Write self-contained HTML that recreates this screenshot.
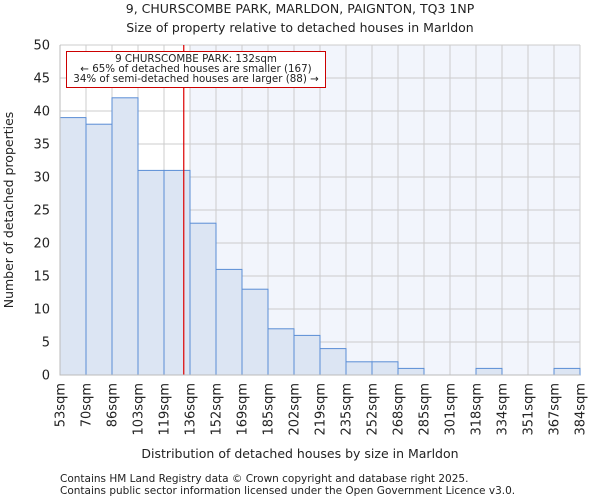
<!DOCTYPE html>
<html><head><meta charset="utf-8"><style>
body{margin:0;background:#fff;font-family:"DejaVu Sans","Liberation Sans",sans-serif;}
svg text{font-family:"DejaVu Sans","Liberation Sans",sans-serif;fill:#222;}
</style></head><body>
<svg id="chart" width="600" height="500" xmlns="http://www.w3.org/2000/svg">
<text x="300" y="13" font-size="12.5" text-anchor="middle">9, CHURSCOMBE PARK, MARLDON, PAIGNTON, TQ3 1NP</text>
<text x="300" y="32" font-size="12.5" text-anchor="middle">Size of property relative to detached houses in Marldon</text>
<g id="grid"></g><g id="bars"></g><g id="axes"></g>
<text x="300" y="458" font-size="12.5" text-anchor="middle">Distribution of detached houses by size in Marldon</text>
<text transform="translate(13,210) rotate(-90)" font-size="12.5" text-anchor="middle">Number of detached properties</text>
<text x="60" y="482" font-size="10.5" fill="#444">Contains HM Land Registry data © Crown copyright and database right 2025.</text>
<text x="60" y="494" font-size="10.5" fill="#444">Contains public sector information licensed under the Open Government Licence v3.0.</text>
</svg>
<script>
const binEdges=["53sqm","70sqm","86sqm","103sqm","119sqm","136sqm","152sqm","169sqm","185sqm","202sqm","219sqm","235sqm","252sqm","268sqm","285sqm","301sqm","318sqm","334sqm","351sqm","367sqm","384sqm"];
const counts=[39,38,42,31,31,23,16,13,7,6,4,2,2,1,0,0,1,0,0,1];
const yTicks=[0,5,10,15,20,25,30,35,40,45,50];
const propertyBinPos=4.76; // 132sqm within bins
const shadeFromBin=5;
const X0=60,X1=580,Y0=375,Y1=45,YMAX=50;
const bw=(X1-X0)/counts.length;
const xs=i=>X0+i*bw;
const ys=v=>Y0-(v/YMAX)*(Y0-Y1);
const NS="http://www.w3.org/2000/svg";
function mk(parent,tag,attrs){const e=document.createElementNS(NS,tag);for(const k in attrs)e.setAttribute(k,attrs[k]);document.getElementById(parent).appendChild(e);return e;}
let r=mk('grid','rect',{x:xs(shadeFromBin),y:Y1,width:X1-xs(shadeFromBin),height:Y0-Y1,fill:'#f2f5fc'});


yTicks.forEach(t=>{
 let l=mk('grid','line',{x1:X0,x2:X1,y1:ys(t),y2:ys(t),stroke:'#ccc','stroke-width':1});
 
 
 let tx=mk('axes','text',{x:X0-10,y:ys(t)+4.5,'font-size':13,'text-anchor':'end'});
 tx.textContent=t;
 
 
});
binEdges.forEach((lab,i)=>{
 let l=mk('grid','line',{x1:xs(i),x2:xs(i),y1:Y1,y2:Y0,stroke:'#ccc','stroke-width':1});
 
 
 let x=xs(i)+4.5,y=Y0+8;
 let tx=mk('axes','text',{x:x,y:y,'font-size':13,'text-anchor':'end',transform:`rotate(-90 ${x} ${y})`});
 tx.textContent=lab;
 
 
});
counts.forEach((c,i)=>{
 if(c<=0)return;
 let b=mk('bars','rect',{x:xs(i),y:ys(c),width:bw,height:Y0-ys(c),fill:'#dce5f3',stroke:'#5a8dd5','stroke-width':1});
 
 
});
let vl=mk('axes','line',{x1:xs(propertyBinPos),x2:xs(propertyBinPos),y1:Y1,y2:Y0,stroke:'#d00','stroke-width':1.2});


let box=mk('axes','rect',{x:66.5,y:51.5,width:259,height:36,fill:'#fff',stroke:'#c00','stroke-width':1});


["9 CHURSCOMBE PARK: 132sqm","← 65% of detached houses are smaller (167)","34% of semi-detached houses are larger (88) →"].forEach((s,i)=>{
 let t=mk('axes','text',{x:196,y:62+i*10,'font-size':10.3,'text-anchor':'middle'});
 t.textContent=s;
 
 
});
let ax=mk('axes','path',{d:`M${X0},${Y1}V${Y0}H${X1}`,fill:'none',stroke:'#bbb'});


</script>
</body></html>
